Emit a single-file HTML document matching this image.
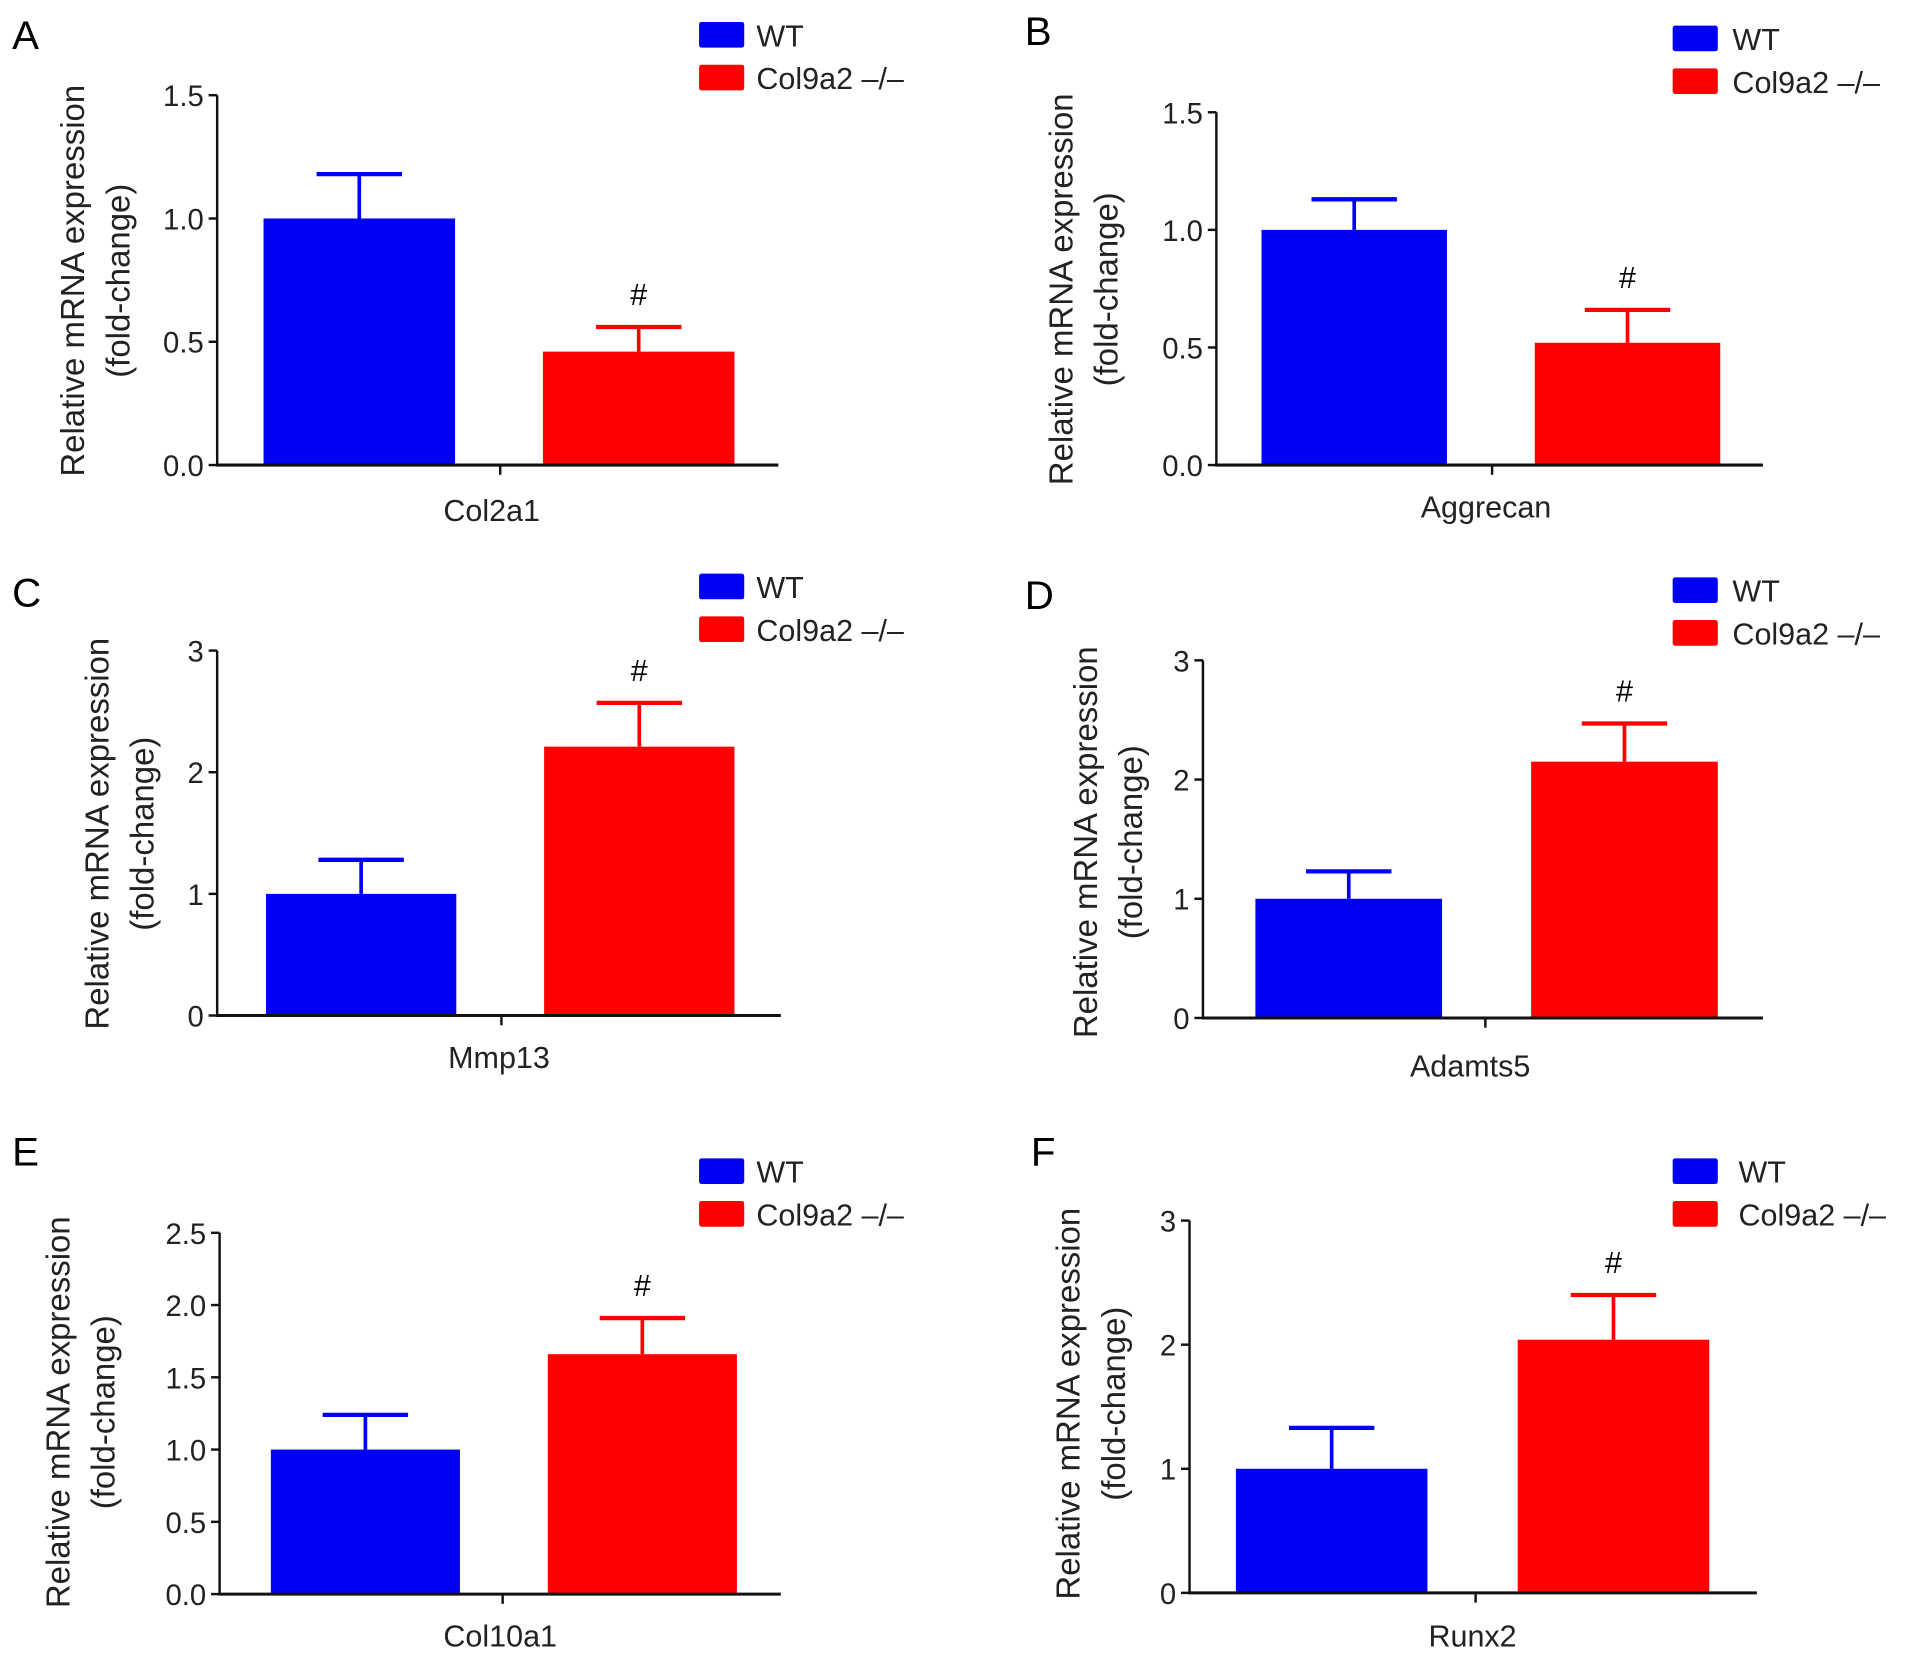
<!DOCTYPE html>
<html><head><meta charset="utf-8"><style>
html,body{margin:0;padding:0;background:#fff;}
svg{display:block;font-family:"Liberation Sans",Arial,sans-serif;}
</style></head><body>
<svg id="fig" width="1913" height="1660" viewBox="0 0 1568 1360" preserveAspectRatio="none" xmlns="http://www.w3.org/2000/svg"></svg>
<script>
const genes = ["Col2a1","Aggrecan","Mmp13","Adamts5","Col10a1","Runx2"];
const panelLetters = ["A","B","C","D","E","F"];
const wtValues = [1.0,1.0,1.0,1.0,1.0,1.0];
const wtErrTop = [1.18,1.13,1.28,1.23,1.24,1.33];
const koValues = [0.46,0.52,2.21,2.15,1.66,2.04];
const koErrTop = [0.56,0.66,2.57,2.47,1.91,2.40];
const yMaxes = [1.5,1.5,3,3,2.5,3];
const tickLabelsA = ["0.0","0.5","1.0","1.5"];
const tickLabelsC = ["0","1","2","3"];
const tickLabelsE = ["0.0","0.5","1.0","1.5","2.0","2.5"];
const tickSets = [tickLabelsA,tickLabelsA,tickLabelsC,tickLabelsC,tickLabelsE,tickLabelsC];

const L = [
 {ax:178,yt:78,y0:381,xe:638,b1:216,r1:445,bw:157,lx:573,ly:18,tx:620,let:[10,40],yt1:60,ytc:230,xl:403,xly:427},
 {ax:997,yt:92,y0:381,xe:1445,b1:1034,r1:1258,bw:152,lx:1371,ly:21,tx:1420,let:[840,37],yt1:870,ytc:237,xl:1218,xly:424},
 {ax:178,yt:533,y0:832,xe:640,b1:218,r1:446,bw:156,lx:573,ly:470,tx:620,let:[10,497],yt1:80,ytc:683,xl:409,xly:875},
 {ax:986,yt:541,y0:834,xe:1445,b1:1029,r1:1255,bw:153,lx:1371,ly:473,tx:1420,let:[840,499],yt1:890,ytc:690,xl:1205,xly:882},
 {ax:180,yt:1010,y0:1306,xe:640,b1:222,r1:449,bw:155,lx:573,ly:949,tx:620,let:[10,955],yt1:48,ytc:1157,xl:410,xly:1349},
 {ax:975,yt:1000,y0:1305,xe:1440,b1:1013,r1:1244,bw:157,lx:1371,ly:949,tx:1425,let:[845,955],yt1:876,ytc:1150,xl:1207,xly:1349}
];
const NS="http://www.w3.org/2000/svg";
const svg=document.getElementById('fig');
function mk(tag,attrs,parent,text){const e=document.createElementNS(NS,tag);for(const k in attrs)e.setAttribute(k,attrs[k]);if(text!==undefined)e.textContent=text;parent.appendChild(e);return e;}

for(let i=0;i<6;i++){
  const p=L[i];
  const g=mk('g',{},svg);
  
  
  const y=v=>p.y0-(v/yMaxes[i])*(p.y0-p.yt);
  const t=mk('text',{x:p.let[0],y:p.let[1],'font-size':33},g,panelLetters[i]);
  
  
  const series=[[wtValues[i],wtErrTop[i],p.b1,'#0000f5','wt'],[koValues[i],koErrTop[i],p.r1,'#fe0000','ko']];
  series.forEach(s=>{
    const cx=s[2]+p.bw/2;
    const el=mk('line',{x1:cx,x2:cx,y1:y(s[0]),y2:y(s[1]),stroke:s[3],'stroke-width':3},g);
    
    
    const cap=mk('line',{x1:cx-35,x2:cx+35,y1:y(s[1]),y2:y(s[1]),stroke:s[3],'stroke-width':3.5},g);
    
    
    const r=mk('rect',{x:s[2],y:y(s[0]),width:p.bw,height:p.y0-y(s[0]),fill:s[3]},g);
    
    
  });
  const hash=mk('text',{x:p.r1+p.bw/2,y:y(koErrTop[i])-18,'font-size':25,'text-anchor':'middle'},g,'#');
  
  
  const ya=mk('line',{x1:p.ax,x2:p.ax,y1:p.yt,y2:p.y0+1,stroke:'#111','stroke-width':2},g);
  
  
  const xa=mk('line',{x1:p.ax-1,x2:p.xe,y1:p.y0,y2:p.y0,stroke:'#111','stroke-width':2.5},g);
  
  
  const xc=(p.ax+p.xe)/2+2;
  mk('line',{x1:xc,x2:xc,y1:p.y0,y2:p.y0+8,stroke:'#111','stroke-width':2},g);
  const ticks=tickSets[i];
  ticks.forEach(lbl=>{
    const v=parseFloat(lbl),yy=y(v);
    mk('line',{x1:p.ax-7,x2:p.ax,y1:yy,y2:yy,stroke:'#111','stroke-width':2},g);
    const tl=mk('text',{x:p.ax-11,y:yy+9,'font-size':24,'text-anchor':'end',fill:'#222'},g,lbl);
    
    
  });
  const xl=mk('text',{x:p.xl,y:p.xly,'font-size':25,'text-anchor':'middle',fill:'#222'},g,genes[i]);
  
  
  const yt=mk('text',{transform:`translate(${p.yt1+9},${p.ytc}) rotate(-90)`,'font-size':27,'text-anchor':'middle',fill:'#222'},g,'Relative mRNA expression');
  
  
  const yt2=mk('text',{transform:`translate(${p.yt1+46},${p.ytc}) rotate(-90)`,'font-size':27,'text-anchor':'middle',fill:'#222'},g,'(fold-change)');
  
  
  const lg=mk('g',{},g);
  
  
  const b1=mk('rect',{x:p.lx,y:p.ly,width:37,height:21,fill:'#0000f5',rx:2},lg);
  
  
  const t1=mk('text',{x:p.tx,y:p.ly+20,'font-size':25,fill:'#222'},lg,'WT');
  
  
  const b2=mk('rect',{x:p.lx,y:p.ly+35,width:37,height:21,fill:'#fe0000',rx:2},lg);
  
  
  const t2=mk('text',{x:p.tx,y:p.ly+55,'font-size':25,fill:'#222'},lg,'Col9a2 \u2013/\u2013');
  
  
}
</script>
</body></html>
